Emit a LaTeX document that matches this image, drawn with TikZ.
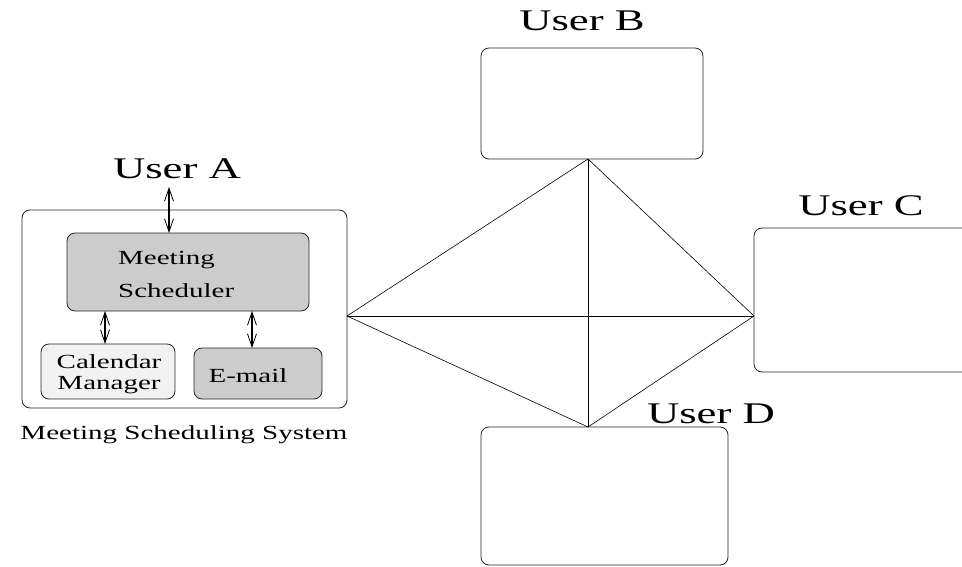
\documentclass[tikz,border=0pt]{standalone}
\usepackage{fontspec}
\setmainfont{Liberation Serif}
\usepackage{graphicx}
\usetikzlibrary{arrows.meta}
\newcommand{\hs}[1]{\scalebox{1.45}[1]{#1}}
\newcommand{\hb}[1]{\scalebox{1.49}[1]{#1}}
\definecolor{boxgray}{RGB}{204,204,204}
\definecolor{lightgray}{RGB}{242,242,242}
\tikzset{
  box/.style={draw=black!85, line width=0.8pt, rounded corners=8pt, inner sep=0pt, outer sep=0pt, anchor=north west},
  big/.style={inner sep=0pt, anchor=base, font=\fontsize{30}{34}\selectfont},
  small/.style={inner sep=0pt, anchor=base, font=\fontsize{20}{24}\selectfont},
  link/.style={line width=0.6pt},
  dbl/.style={line width=1.2pt, {Straight Barb[length=13pt,width=9pt,line width=0.8pt]}-{Straight Barb[length=13pt,width=9pt,line width=0.8pt]}}
}
\begin{document}
\begin{tikzpicture}[x=1pt,y=-1pt]
\useasboundingbox (0,0) rectangle (962,567);
% system box
\node[box, minimum width=325pt, minimum height=198pt] (sys) at (22,210) {};
\node[box, fill=boxgray, minimum width=242pt, minimum height=78pt] (ms) at (67,233) {};
\node[box, fill=lightgray, minimum width=134pt, minimum height=55pt] (cal) at (41,344) {};
\node[box, fill=boxgray, minimum width=128pt, minimum height=51pt] (em) at (194,348) {};
\node[small, anchor=base west] (t1) at (118,265) {\hs{Meeting}};
\node[small, anchor=base west] (t2) at (118,297) {\hs{Scheduler}};
\node[small] (t3) at (109,368) {\hs{Calendar}};
\node[small] (t4) at (109,389) {\hs{Manager}};
\node[small] (t5) at (248,382) {\hs{E-mail}};
\node[small] (sysl) at (184,439) {\hs{Meeting Scheduling System}};
\node[big] (ua) at (177,179) {\hb{User A}};
% arrows
\coordinate (a1) at (169,187);
\coordinate (a2) at (169,233);
\draw[dbl] (a1) -- (a2);
\coordinate (c1) at (105,311);
\coordinate (c2) at (105,344);
\draw[dbl] (c1) -- (c2);
\coordinate (e1) at (252,311);
\coordinate (e2) at (252,348);
\draw[dbl] (e1) -- (e2);
% user boxes
\node[box, minimum width=222pt, minimum height=111pt] (B) at (481,48) {};
\node[big] (ub) at (582,31) {\hb{User B}};
\begin{scope}
\clip (0,0) rectangle (962,567);
\node[box, minimum width=230pt, minimum height=144pt] (C) at (754,228) {};
\end{scope}
\node[big] (uc) at (861,215) {\hb{User C}};
\node[box, minimum width=247pt, minimum height=138pt] (D) at (481,427) {};
\node[big] (ud) at (711,423) {\hb{User D}};
% connection points
\coordinate (pA) at (347,316);
\coordinate (pB) at (588,159);
\coordinate (pC) at (754,316);
\coordinate (pD) at (588,427);
\draw[link] (pA) -- (pB);
\draw[link] (pA) -- (pC);
\draw[link] (pA) -- (pD);
\draw[link] (pB) -- (pC);
\draw[link] (pB) -- (pD);
\draw[link] (pC) -- (pD);
\end{tikzpicture}
\end{document}
